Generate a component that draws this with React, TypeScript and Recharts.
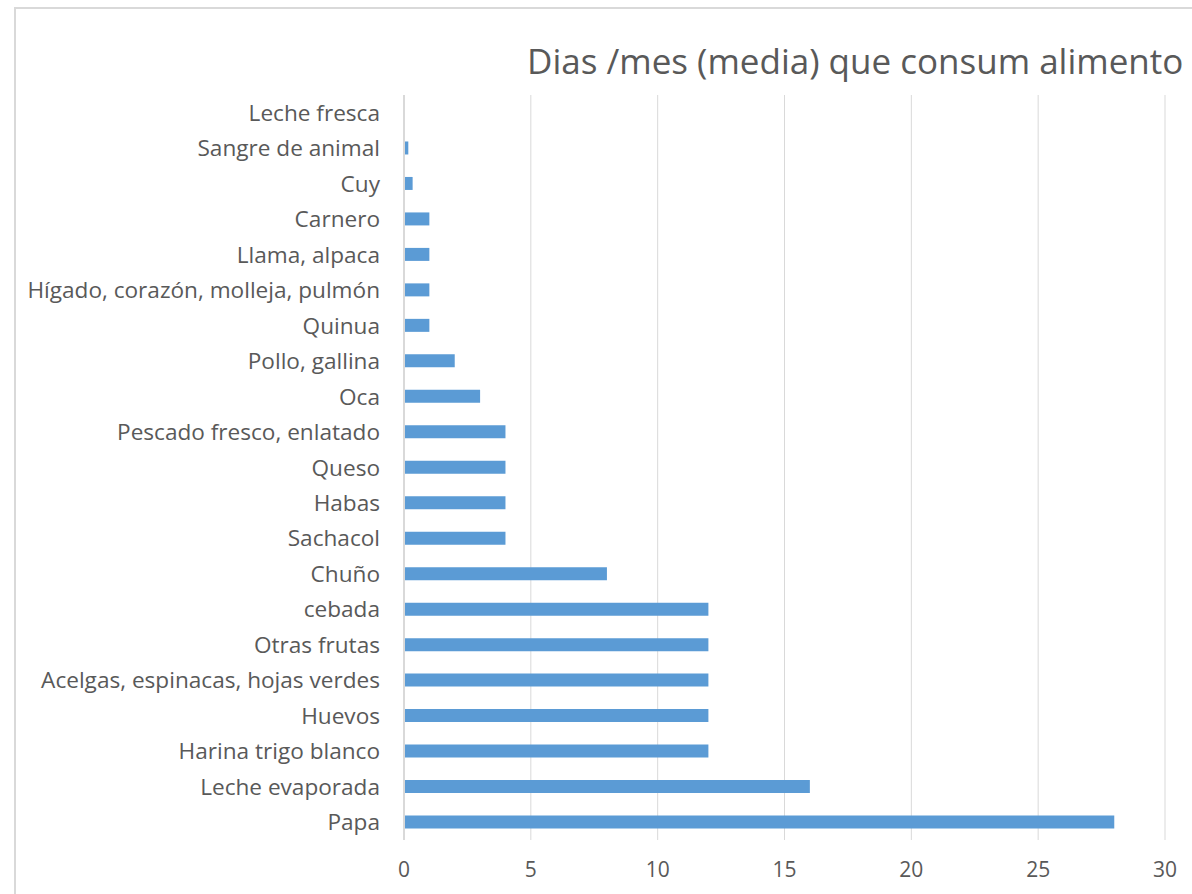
import { BarChart, Bar, XAxis, YAxis, CartesianGrid } from 'recharts'

const categories = [
  'Leche fresca',
  'Sangre de animal',
  'Cuy',
  'Carnero',
  'Llama, alpaca',
  'Hígado, corazón, molleja, pulmón',
  'Quinua',
  'Pollo, gallina',
  'Oca',
  'Pescado fresco, enlatado',
  'Queso',
  'Habas',
  'Sachacol',
  'Chuño',
  'cebada',
  'Otras frutas',
  'Acelgas, espinacas, hojas verdes',
  'Huevos',
  'Harina trigo blanco',
  'Leche evaporada',
  'Papa',
]

const diasMes = [0, 0.17, 0.34, 1, 1, 1, 1, 2, 3, 4, 4, 4, 4, 8, 12, 12, 12, 12, 12, 16, 28]

const xTicks = [0, 5, 10, 15, 20, 25, 30]

const TITLE = 'Dias /mes (media) que consum alimento'

const data = categories.map((name, i) => ({ name, dias: diasMes[i] }))

const FONT = '"Open Sans", sans-serif'
const GREY = '#595959'

export default function App() {
  return (
    <div style={{ position: 'absolute', left: 0, top: 0, width: 1192, height: 894, background: '#fff', overflow: 'hidden', fontFamily: FONT }}>
      {/* marco del gráfico */}
      <div style={{ position: 'absolute', left: 14, top: 7, width: 1300, height: 1000, borderLeft: '2px solid #d9d9d9', borderTop: '2px solid #d9d9d9' }} />
      <div style={{ position: 'absolute', left: 527, top: 36, fontSize: 35, color: GREY, whiteSpace: 'nowrap', lineHeight: '50px' }}>
        {TITLE}
      </div>
      <div style={{ position: 'absolute', left: 0, top: 0 }}>
        <BarChart
          width={1192}
          height={894}
          data={data}
          layout="vertical"
          margin={{ top: 95, right: 27, left: 0, bottom: 0 }}
        >
          <CartesianGrid horizontal={false} stroke="#d9d9d9" />
          <XAxis
            type="number"
            domain={[0, 30]}
            ticks={xTicks}
            axisLine={false}
            tickLine={false}
            tickSize={0}
            tickMargin={22}
            height={54}
            tick={{ fill: GREY, fontSize: 21, fontFamily: FONT }}
          />
          <YAxis
            type="category"
            dataKey="name"
            width={404}
            interval={0}
            axisLine={{ stroke: '#d9d9d9', strokeWidth: 2 }}
            tickLine={false}
            tickSize={0}
            tickMargin={24}
            tick={{ fill: GREY, fontSize: 22.6, fontFamily: FONT }}
          />
          <Bar dataKey="dias" fill="#5b9bd5" barSize={13} isAnimationActive={false} />
        </BarChart>
      </div>
    </div>
  )
}
